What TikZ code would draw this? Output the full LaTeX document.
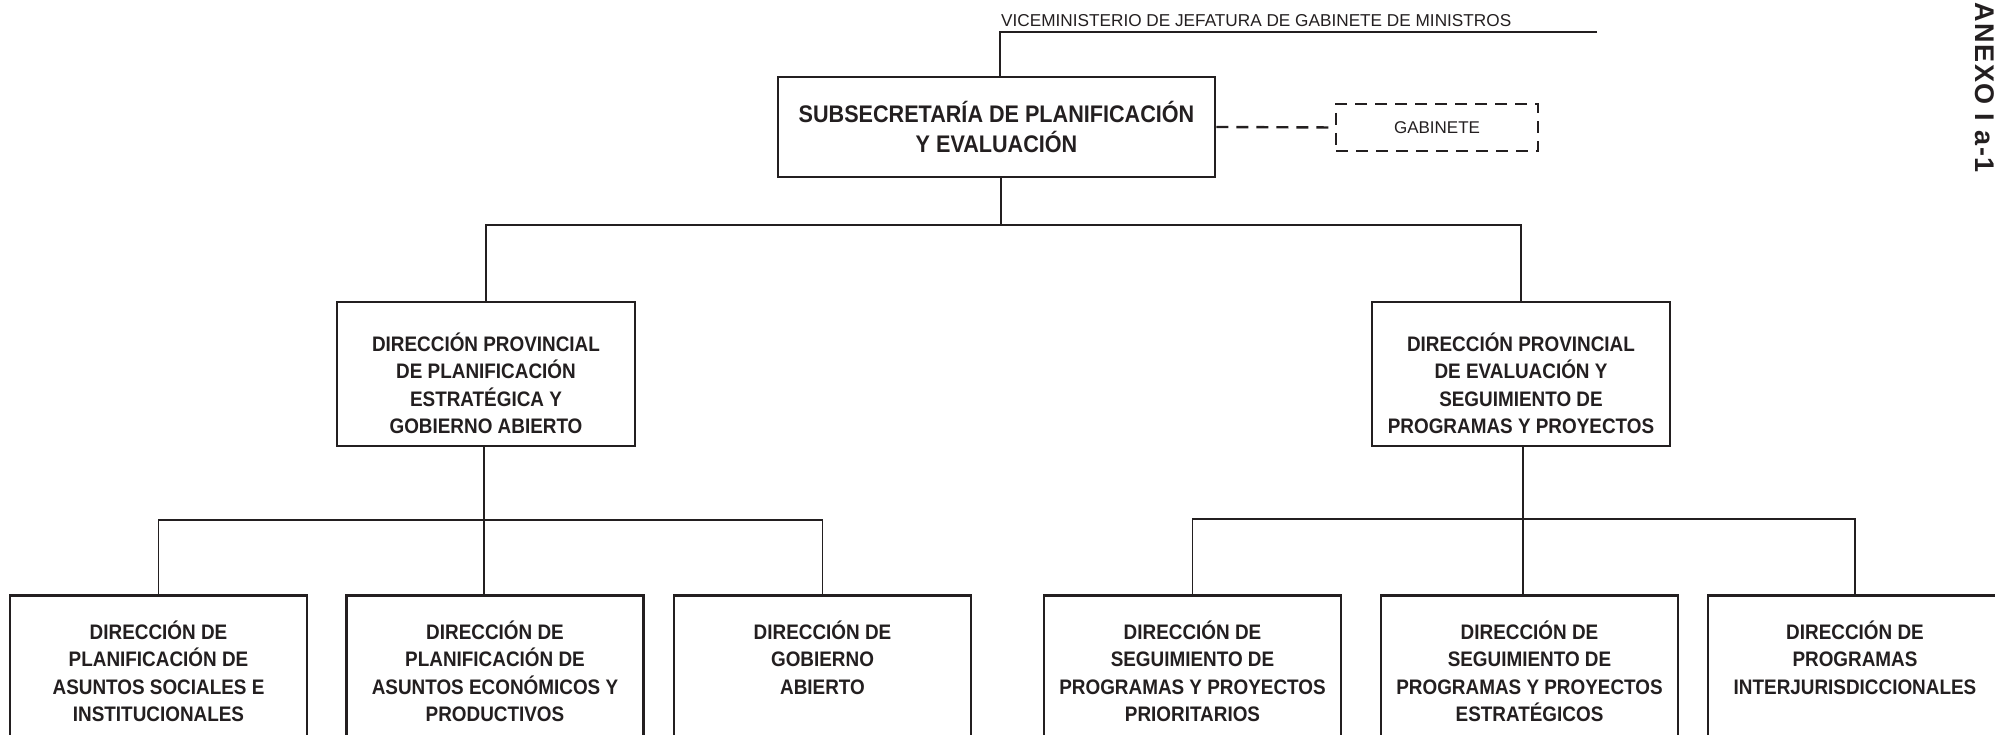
\documentclass[tikz,border=0pt]{standalone}
\usepackage{fontspec}
\setmainfont{Liberation Sans}
\newfontfamily\orgfont{Liberation Sans}[FakeStretch=0.9]
\newfontfamily\annexfont{Liberation Sans}[LetterSpace=6]
\usetikzlibrary{positioning}
\definecolor{inkblack}{HTML}{231F20}
\tikzset{
  orgbox/.style={draw=inkblack,line width=2.6pt,inner sep=0pt,minimum width=297pt},
  headbox/.style={orgbox,minimum width=437pt,minimum height=100pt},
  provbox/.style={orgbox,minimum width=298pt,minimum height=144pt},
  unitbox/.style={orgbox,minimum height=170pt,anchor=north},
  staffbox/.style={draw=inkblack,line width=2.4pt,dash pattern=on 12pt off 8pt,
    minimum width=202pt,minimum height=47pt,inner sep=0pt,text=inkblack,
    font=\fontsize{17}{20}\selectfont},
  boxtext/.style={inner sep=0pt,align=center,text=inkblack,
    font=\orgfont\bfseries\fontsize{21}{27.5}\selectfont},
  headtext/.style={boxtext,font=\orgfont\bfseries\fontsize{24}{30}\selectfont},
  link/.style={draw=inkblack,line width=1.1pt},
  staffline/.style={draw=inkblack,line width=2.4pt,dash pattern=on 12pt off 8pt}
}
\begin{document}
\begin{tikzpicture}[x=1pt,y=-1pt]
\fill[white] (0,0) rectangle (1995,735);
\useasboundingbox (0,0) rectangle (1995,735);
% top level
\coordinate (vice) at (1000,32);
\coordinate (viceend) at (1597,32);
\node[anchor=base west,inner sep=0pt,text=inkblack,font=\fontsize{17.2}{20}\selectfont] (vicetext) at (1001,27) {VICEMINISTERIO DE JEFATURA DE GABINETE DE MINISTROS};
\node[headbox] (sub) at (996.5,127) {};
\node[headtext,below=25pt of sub.north] (subtext) {SUBSECRETARÍA DE PLANIFICACIÓN\\Y EVALUACIÓN};
\node[staffbox] (gab) at (1437,127.5) {GABINETE};
\node[anchor=base west,rotate=-90,inner sep=0pt,text=inkblack,font=\annexfont\bfseries\fontsize{27}{30}\selectfont] (annex) at (1975,2) {ANEXO I a-1};
% provincial directorates
\node[provbox] (plan) at (486,374) {};
\node[boxtext,below=31.5pt of plan.north] (plantext) {DIRECCIÓN PROVINCIAL\\DE PLANIFICACIÓN\\ESTRATÉGICA Y\\GOBIERNO ABIERTO};
\node[provbox] (eval) at (1521,374) {};
\node[boxtext,below=31.5pt of eval.north] (evaltext) {DIRECCIÓN PROVINCIAL\\DE EVALUACIÓN Y\\SEGUIMIENTO DE\\PROGRAMAS Y PROYECTOS};
% directorates
\node[unitbox] (asoc) at (158.5,594) {};
\node[boxtext,below=26.5pt of asoc.north] (asoctext) {DIRECCIÓN DE\\PLANIFICACIÓN DE\\ASUNTOS SOCIALES E\\INSTITUCIONALES};
\node[unitbox] (econ) at (495,594) {};
\node[boxtext,below=26.5pt of econ.north] (econtext) {DIRECCIÓN DE\\PLANIFICACIÓN DE\\ASUNTOS ECONÓMICOS Y\\PRODUCTIVOS};
\node[unitbox] (gob) at (822.5,594) {};
\node[boxtext,below=26.5pt of gob.north] (gobtext) {DIRECCIÓN DE\\GOBIERNO\\ABIERTO};
\node[unitbox] (prio) at (1192.5,594) {};
\node[boxtext,below=26.5pt of prio.north] (priotext) {DIRECCIÓN DE\\SEGUIMIENTO DE\\PROGRAMAS Y PROYECTOS\\PRIORITARIOS};
\node[unitbox] (estr) at (1529.5,594) {};
\node[boxtext,below=26.5pt of estr.north] (estrtext) {DIRECCIÓN DE\\SEGUIMIENTO DE\\PROGRAMAS Y PROYECTOS\\ESTRATÉGICOS};
\node[unitbox,minimum width=294pt] (inter) at (1855,594) {};
\node[boxtext,below=26.5pt of inter.north] (intertext) {DIRECCIÓN DE\\PROGRAMAS\\INTERJURISDICCIONALES};
% connectors
\draw[link] (viceend) -- (vice) -- (vice |- sub.north);
\draw[staffline] (sub.east) -- (gab.west);
\coordinate (bus1) at (1001,225);
\draw[link] (bus1 |- sub.south) -- (bus1);
\draw[link] (plan.north) |- (bus1) -| (eval.north);
\coordinate (bus2) at (484,520);
\draw[link] (bus2 |- plan.south) -- (bus2 |- econ.north);
\draw[link] (asoc.north) |- (bus2) -| (gob.north);
\coordinate (bus3) at (1523,519);
\draw[link] (bus3 |- eval.south) -- (bus3 |- estr.north);
\draw[link] (prio.north) |- (bus3) -| (inter.north);
\end{tikzpicture}
\end{document}
